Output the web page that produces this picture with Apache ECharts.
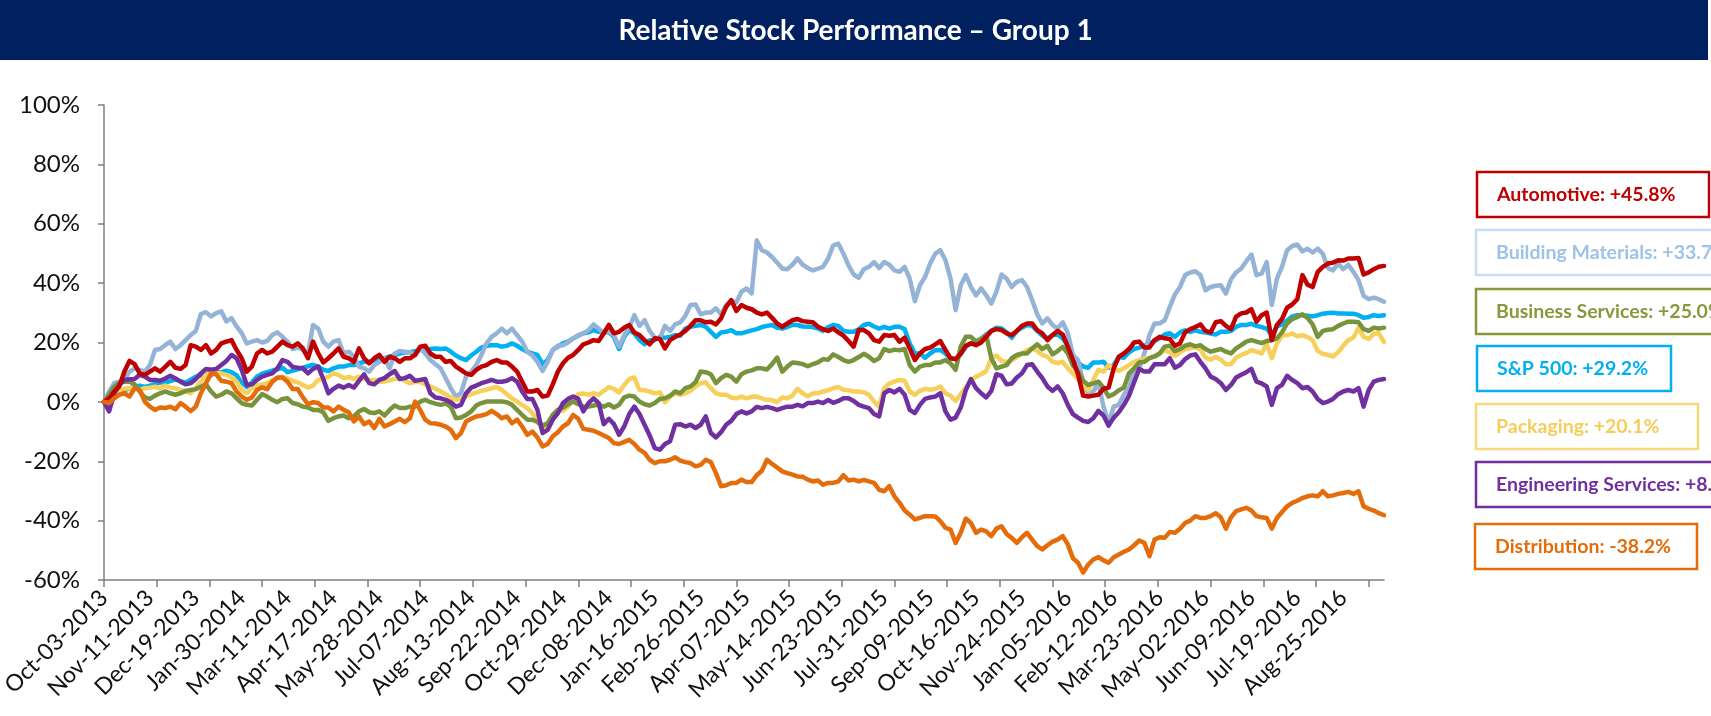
<!DOCTYPE html>
<html>
<head>
<meta charset="utf-8">
<script src="https://cdn.jsdelivr.net/npm/echarts@6/dist/echarts.min.js"></script>
<style>html,body{margin:0;padding:0;background:#fff;}#chart{width:1711px;height:716px;}</style>
</head>
<body>
<div id="chart"></div>
<script>
// ---------------- DATA ----------------
const tickLabels = ["Oct-03-2013","Nov-11-2013","Dec-19-2013","Jan-30-2014","Mar-11-2014","Apr-17-2014","May-28-2014","Jul-07-2014","Aug-13-2014","Sep-22-2014","Oct-29-2014","Dec-08-2014","Jan-16-2015","Feb-26-2015","Apr-07-2015","May-14-2015","Jun-23-2015","Jul-31-2015","Sep-09-2015","Oct-16-2015","Nov-24-2015","Jan-05-2016","Feb-12-2016","Mar-23-2016","May-02-2016","Jun-09-2016","Jul-19-2016","Aug-25-2016"];
const daysPerLabel = 27;      // trading days between labels
const totalDays = 754;        // trading days on the axis
const sampleStep = 3;         // values below are read every 3 trading days

const seriesNames = ["Automotive","Building Materials","Business Services","S&P 500","Packaging","Engineering Services","Distribution"];
const legendValues = ["+45.8%","+33.7%","+25.0%","+29.2%","+20.1%","+8.0%","-38.2%"];

const automotive = [
0,1.2,3.5,5.2,10.2,13.8,12.7,9.6,9.1,10.2,11.3,10.2,11.8,13.5,11.5,11.1,12.4,19.1,18.6,17.5,19.1,16.3,17.5,19.7,20.3,20.8,17.5,14.7,10.2,11.9,16.3,17.5,16.3,16.9,18.6,20.3,19.1,18.6,19.7,18.0,14.7,20.3,
16.3,13.3,14.7,16.3,18.0,15.2,14.7,13.5,18.0,14.7,13.0,14.7,15.8,13.5,15.2,14.7,13.5,14.7,14.7,15.8,18.6,18.9,16.3,15.2,15.2,13.5,13.8,11.9,10.8,9.6,9.1,10.8,11.9,12.4,13.5,14.1,13.3,13.3,11.9,10.2,6.8,3.5,
3.5,4.0,1.8,2.1,5.9,10.2,13.0,14.9,15.8,17.5,19.4,20.0,20.8,20.5,23.1,25.9,23.1,23.6,25.0,25.9,23.4,22.5,20.8,19.4,21.4,21.2,18.0,20.8,21.9,22.7,23.9,25.6,27.5,27.5,26.8,27.0,26.1,28.1,32.0,34.3,30.6,32.6,
31.7,31.2,30.1,29.5,30.1,28.3,26.4,25.3,26.4,27.5,27.9,27.2,27.0,26.8,25.3,24.5,23.9,24.7,23.4,22.3,20.5,18.6,24.2,24.2,23.1,20.8,20.3,22.5,22.3,22.5,20.3,21.6,18.0,14.1,16.3,17.8,18.3,19.4,20.5,17.5,
14.7,14.4,16.3,18.9,19.7,19.1,20.0,21.9,23.9,24.5,24.2,23.1,22.5,23.9,25.6,26.4,26.4,24.2,23.1,20.8,22.5,23.9,22.7,18.6,14.1,9.3,2.1,1.8,2.1,2.4,4.4,4.8,11.3,15.2,16.3,17.8,20.0,20.3,18.3,18.3,20.8,21.9,
21.4,21.2,18.9,19.7,23.4,24.5,25.2,26.1,23.9,23.4,26.8,27.2,25.6,24.5,28.7,29.8,30.1,31.2,27.0,29.2,30.1,20.8,25.9,27.9,31.7,32.8,34.6,42.7,39.5,38.7,43.8,45.5,46.6,46.9,47.7,47.6,48.3,48.3,48.5,42.9,43.6,44.7,45.5,45.8
];
const buildingMaterials = [
0,3.5,6.3,6.8,7.4,10.2,11.3,10.8,10.2,12.4,17.5,17.8,19.1,20.3,17.8,19.1,20.8,22.5,23.9,29.6,30.2,28.8,29.9,30.5,27.1,28.2,25.4,23.2,19.7,20.3,20.8,20.0,20.5,22.5,23.4,21.9,20.3,17.8,18.3,17.5,16.3,25.9,
24.7,20.3,18.6,20.3,20.8,16.3,16.9,15.2,11.9,11.3,10.2,12.4,13.5,14.7,11.3,16.3,17.1,16.9,16.7,15.8,18.0,16.3,14.1,12.7,11.3,8.0,4.6,1.8,2.9,8.5,10.2,12.4,15.8,19.7,21.9,23.1,24.7,23.1,24.7,22.5,20.3,16.9,
15.6,13.5,10.4,13.5,17.5,18.9,19.1,20.0,21.4,22.5,23.1,24.2,26.1,24.7,23.1,23.6,22.5,18.6,22.5,25.0,29.2,25.6,27.5,23.9,21.6,21.4,25.6,23.9,26.1,26.8,29.0,32.6,32.8,29.5,30.1,30.1,31.5,29.5,32.6,33.9,33.5,37.1,
38.2,36.5,54.4,51.1,50.3,48.8,46.9,44.9,44.7,46.2,48.3,46.2,45.1,44.3,44.9,45.5,48.3,52.7,53.3,49.9,46.0,42.9,41.8,44.7,45.5,47.1,45.1,47.1,46.2,44.3,43.8,45.5,41.5,33.9,39.3,42.1,46.6,49.9,51.1,47.7,
41.5,30.9,39.3,42.7,38.7,35.9,38.2,35.9,33.1,37.1,42.9,41.5,38.7,40.4,41.0,38.7,34.3,29.5,26.4,28.1,25.9,24.7,26.8,23.1,15.8,14.1,6.8,2.9,3.5,6.3,-1.6,-7.2,-1.6,-1.0,2.4,4.8,10.0,11.3,16.3,22.5,26.4,26.4,
27.5,32.0,36.2,38.7,42.7,43.6,44.0,42.7,37.6,38.7,39.1,39.3,36.5,41.3,43.6,44.9,47.4,49.6,42.7,43.2,47.1,32.6,41.5,45.5,51.1,52.5,53.0,50.7,51.6,50.3,51.6,49.9,45.1,44.3,46.6,44.7,46.2,43.8,41.0,35.7,34.6,35.1,34.6,33.7
];
const businessServices = [
0,2.4,5.1,6.3,6.8,6.8,5.9,3.5,1.5,1.0,2.1,2.9,3.5,2.9,2.4,2.9,3.7,4.0,4.3,5.1,5.9,3.5,1.8,2.4,3.5,2.9,1.2,-0.4,-1.0,-1.2,0.7,2.6,1.8,0.7,-0.1,1.0,1.2,-0.4,-0.8,-1.6,-1.9,-2.7,
-2.7,-3.5,-6.4,-5.5,-4.9,-4.6,-5.5,-4.9,-3.2,-2.4,-3.5,-3.8,-3.2,-4.6,-2.7,-1.2,-2.1,-2.1,-1.6,-1.6,0.1,0.7,-0.1,-0.6,-1.0,-0.6,-1.6,-5.5,-5.3,-4.4,-3.2,-1.2,-0.4,0.1,0.1,0.1,0.1,-0.1,-1.0,-2.7,-4.4,-6.0,
-6.0,-6.8,-8.0,-7.2,-4.4,-2.7,-1.9,-0.8,0.1,-0.8,-1.6,-1.6,-1.2,-1.0,-1.6,-0.8,-1.9,-1.0,1.5,2.1,1.8,0.1,-0.8,-1.2,-0.4,1.0,1.2,2.1,3.5,2.9,4.6,5.2,6.6,10.2,10.0,9.3,6.3,8.0,9.1,8.5,6.8,9.3,
10.2,10.6,11.3,11.3,10.9,12.7,14.9,10.2,11.9,13.3,13.1,12.7,12.0,12.7,13.3,14.4,14.2,16.0,15.1,14.1,13.5,14.1,15.1,16.2,15.2,13.8,14.7,17.8,17.1,17.6,17.4,17.8,12.4,10.2,11.9,12.4,12.4,13.3,13.3,14.1,
13.0,10.8,18.6,21.9,21.9,20.3,21.2,22.5,14.7,11.3,11.9,12.4,14.7,15.8,16.3,16.3,18.0,19.4,17.8,18.9,16.0,17.1,18.5,16.3,12.2,10.2,7.1,5.7,6.2,6.8,4.8,1.8,2.6,3.9,4.8,9.6,11.3,13.3,13.5,14.7,15.3,16.3,
18.6,18.9,17.1,17.8,18.9,19.4,18.7,19.1,17.8,16.9,17.4,17.8,16.9,16.3,18.0,19.1,20.3,20.8,20.3,19.8,20.5,20.8,21.4,23.4,26.4,27.9,28.6,29.5,28.3,26.1,21.9,23.9,24.3,24.5,25.6,26.4,27.0,27.0,26.8,24.5,23.9,25.0,24.7,25.0
];
const sp500 = [
0,0.5,1.5,3.0,4.0,4.5,5.0,5.5,5.0,5.5,6.0,6.5,6.5,7.0,7.5,7.0,6.5,7.5,8.5,9.0,9.5,9.0,10.0,10.0,10.5,10.0,9.0,6.5,5.0,6.5,8.5,9.5,10.0,10.5,11.0,11.5,10.0,10.5,11.0,11.5,12.0,12.5,
11.9,10.8,10.4,11.3,11.9,11.9,12.4,12.4,13.0,13.5,13.5,14.1,14.7,14.7,15.2,15.8,16.3,16.6,16.7,17.1,17.5,17.5,17.8,18.0,17.8,18.0,16.9,15.6,14.7,14.1,15.6,16.9,18.3,18.9,19.1,19.1,18.6,18.9,19.7,18.9,17.8,16.9,
16.3,15.8,12.7,14.1,17.5,18.6,19.7,20.3,21.4,22.3,23.1,23.4,24.2,23.6,23.6,23.4,21.9,17.8,21.9,24.2,23.1,20.8,19.4,20.8,20.8,21.9,21.6,21.9,22.5,22.3,24.7,25.3,25.6,25.9,25.3,23.6,21.9,23.4,23.6,24.2,23.1,23.1,
23.6,24.1,24.5,25.2,25.6,25.9,25.0,24.7,25.3,25.9,25.9,25.4,25.3,25.2,24.7,23.9,25.2,25.9,25.6,23.9,23.6,23.6,24.5,25.9,26.3,25.4,24.7,25.3,24.7,25.3,25.3,24.5,19.7,16.3,16.3,14.9,16.3,17.4,17.5,16.3,
14.7,14.4,16.0,18.6,19.7,20.3,21.2,22.7,23.9,25.0,24.7,23.4,21.6,23.9,25.0,25.9,25.6,23.9,22.3,21.4,22.5,22.7,21.4,18.9,15.2,13.3,11.9,11.5,13.3,13.3,13.5,11.5,12.4,15.1,14.9,16.7,17.8,18.3,18.9,19.7,20.5,21.4,
22.7,23.1,21.9,23.4,24.1,23.6,24.1,23.6,23.4,23.0,22.7,23.6,23.6,23.9,25.3,25.9,25.9,26.3,25.6,25.2,24.7,22.5,25.4,26.1,27.4,28.8,29.2,29.2,29.0,28.8,29.2,29.7,29.9,30.0,29.8,29.8,29.7,29.7,29.2,28.3,28.6,29.2,28.9,29.2
];
const packaging = [
0,-1.0,1.8,3.5,4.4,4.6,4.8,4.0,4.6,4.8,5.1,4.6,5.5,4.8,4.6,4.0,3.5,2.9,4.6,6.8,9.1,10.2,9.9,9.6,9.1,8.2,6.8,4.0,2.9,4.6,5.5,5.9,6.3,7.4,7.9,8.5,7.9,7.0,6.6,5.7,4.8,5.5,
7.4,7.7,8.5,9.6,9.1,8.0,8.4,7.7,8.5,7.7,7.4,7.4,6.8,6.8,7.3,7.7,8.0,7.1,6.2,6.8,6.6,5.9,5.2,4.4,3.5,2.6,1.5,0.7,1.0,1.9,2.6,3.1,3.7,4.1,4.6,5.0,4.0,2.6,1.2,0.1,-1.0,-2.1,
-3.8,-6.0,-10.2,-7.7,-4.4,-2.8,-3.0,-1.6,0.7,2.6,2.8,2.4,2.9,2.4,3.7,5.0,4.4,3.2,5.7,7.7,8.2,4.0,3.9,3.5,2.9,3.2,-0.1,1.8,2.9,2.4,2.9,3.7,5.2,6.3,6.6,4.6,2.9,2.4,2.4,1.5,1.2,1.8,
1.2,1.7,1.8,1.2,0.7,0.6,-0.1,1.5,1.2,2.1,4.4,2.9,1.9,2.8,2.9,3.5,3.9,4.6,5.0,4.1,3.9,3.5,3.5,3.2,2.4,0.1,-1.6,4.6,6.2,6.8,7.4,7.1,3.5,2.4,3.7,4.4,4.1,4.4,5.2,2.9,
2.1,0.3,2.6,4.8,7.4,8.5,9.3,10.4,14.7,15.6,13.8,13.5,14.0,15.1,16.2,17.4,18.0,17.1,15.8,15.2,13.5,13.1,13.5,11.3,9.6,7.7,5.5,4.0,7.4,10.8,10.2,12.4,11.3,10.4,11.3,12.4,13.5,14.1,14.7,14.7,15.3,16.3,
17.4,16.7,15.5,16.7,17.8,18.0,18.5,17.6,14.9,14.2,15.1,14.2,12.7,12.7,14.9,15.8,16.5,17.4,16.9,16.3,19.7,14.7,19.7,22.3,22.5,23.0,22.1,22.5,21.8,20.8,17.1,16.2,15.8,15.3,16.7,18.9,20.8,21.6,25.0,21.9,21.2,23.0,23.1,20.1
];
const engineeringServices = [
0,-3.2,2.9,5.7,7.4,7.6,7.7,9.1,8.5,7.4,7.4,7.1,7.9,8.8,7.9,6.8,5.9,6.3,7.7,9.6,11.1,10.8,11.1,12.4,13.8,15.8,14.7,10.8,5.7,5.9,7.4,8.5,9.1,9.6,11.3,14.1,13.5,11.8,11.5,11.3,9.6,11.1,
11.9,7.7,2.9,4.4,5.5,4.8,5.7,4.8,7.1,9.3,6.3,5.9,7.4,8.0,9.3,10.4,7.7,8.0,8.8,7.1,7.4,7.7,2.9,1.5,1.2,0.7,-0.1,-1.6,-1.0,2.9,4.8,5.5,6.3,6.8,7.4,6.8,6.8,7.1,8.0,6.8,3.5,1.0,
1.0,-2.7,-10.5,-9.4,-6.0,-3.8,-0.4,1.0,1.8,1.0,-3.2,-0.4,1.2,-0.4,-7.5,-5.7,-7.5,-11.1,-8.3,-4.1,-1.6,-4.1,-7.7,-11.3,-15.6,-16.1,-14.2,-13.3,-7.7,-7.5,-8.3,-7.7,-8.8,-7.7,-4.9,-10.5,-12.0,-10.2,-7.7,-6.4,-4.1,-3.2,
-3.9,-3.2,-1.7,-2.1,-1.7,-2.1,-2.7,-2.1,-1.6,-1.6,-1.0,-1.5,-0.4,-0.4,0.1,-0.4,0.6,-0.3,0.3,1.2,1.2,0.3,-1.0,-1.6,-2.1,-4.1,-4.9,2.9,4.0,3.2,4.4,2.4,-2.7,-3.8,-1.0,1.0,1.5,1.8,2.9,-3.2,
-6.0,-5.3,-1.9,4.0,7.7,4.6,2.9,1.5,3.7,9.3,8.8,5.9,6.2,8.2,9.6,12.4,12.7,10.2,8.0,5.2,3.7,5.2,2.9,-1.0,-4.1,-5.3,-6.4,-6.8,-5.5,-3.0,-4.6,-8.0,-5.3,-3.5,-1.0,2.1,6.6,11.1,10.2,10.2,12.7,12.7,
12.7,14.7,11.5,12.4,14.4,15.6,16.0,13.5,11.3,8.5,7.7,6.3,4.0,5.7,8.2,9.1,10.0,11.1,6.8,6.2,5.2,-1.0,4.6,5.7,8.8,7.4,6.3,4.6,5.0,3.5,1.0,-0.4,0.1,1.0,2.6,3.5,4.0,3.5,4.6,-1.6,4.0,6.8,7.4,7.7
];
const distribution = [
0,-0.4,1.2,2.4,2.9,1.8,4.6,4.0,0.1,-1.6,-2.7,-1.9,-2.1,-1.6,-2.5,-0.4,-1.6,-3.1,-1.6,2.9,6.3,9.6,9.3,7.1,6.8,6.3,3.5,1.8,0.7,1.5,4.0,4.9,4.3,6.8,8.2,8.2,6.8,4.3,4.3,1.5,-0.8,-0.1,
-0.4,-1.9,-1.9,-3.2,-1.6,-2.7,-3.5,-6.6,-4.9,-7.5,-6.6,-8.8,-5.7,-8.3,-7.5,-6.6,-5.7,-6.8,-5.5,0.1,-2.7,-6.0,-7.2,-7.3,-7.7,-8.3,-9.4,-12.2,-10.5,-6.6,-5.7,-4.9,-4.6,-4.1,-3.0,-4.1,-5.5,-4.9,-7.2,-6.0,-8.3,-11.1,
-10.0,-12.0,-15.0,-14.2,-11.6,-10.2,-8.3,-7.2,-4.4,-5.7,-9.1,-9.4,-9.7,-10.5,-11.3,-12.2,-13.9,-14.2,-13.5,-12.8,-14.2,-16.1,-17.2,-19.5,-20.6,-20.0,-20.0,-19.5,-18.7,-19.8,-20.3,-20.6,-21.7,-21.2,-19.5,-20.3,-24.0,-28.4,-28.1,-27.3,-27.3,-26.2,
-27.0,-27.0,-24.7,-23.2,-19.5,-20.9,-22.1,-23.4,-24.0,-24.5,-25.1,-25.2,-26.2,-26.8,-26.5,-27.9,-27.3,-27.3,-26.8,-24.7,-26.5,-26.2,-26.8,-26.3,-26.8,-27.3,-29.6,-30.1,-28.4,-31.8,-34.0,-36.6,-38.0,-39.6,-39.1,-38.5,-38.5,-38.6,-40.2,-42.4,
-43.0,-47.5,-44.1,-39.3,-40.8,-44.1,-43.0,-43.6,-45.2,-42.7,-41.9,-44.5,-45.8,-47.5,-45.6,-44.1,-46.4,-48.6,-49.7,-48.3,-47.1,-46.4,-45.2,-48.0,-52.7,-54.2,-57.5,-54.8,-53.1,-52.3,-53.4,-54.2,-52.3,-51.4,-50.5,-49.7,-48.3,-46.7,-47.5,-52.0,-46.4,-45.6,
-45.8,-43.8,-44.1,-42.7,-40.8,-40.0,-38.5,-39.1,-39.1,-38.5,-37.5,-38.9,-42.7,-38.9,-36.8,-36.2,-35.7,-36.6,-38.5,-38.9,-39.1,-42.7,-39.1,-37.1,-35.2,-34.0,-33.3,-32.4,-31.8,-31.5,-31.8,-30.1,-31.8,-31.5,-31.0,-30.7,-30.3,-31.0,-30.1,-35.2,-36.0,-36.6,-37.5,-38.2
];

// ---------------- BUILD ----------------
const seriesValues = [automotive, buildingMaterials, businessServices, sp500, packaging, engineeringServices, distribution];
const lineColors = ['#C00000','#95B3D7','#77933C','#00B0F0','#F6D05B','#7030A0','#E46C0A'];
const legendText = ['#C00000','#9DC3E6','#8A973A','#00B0F0','#F5CD58','#7030A0','#E46C0A'];
const legendBorder = ['#C00000','#C5DCF1','#8A973A','#00B0F0','#F8D977','#7030A0','#E46C0A'];
const drawOrder = [3, 1, 4, 2, 5, 0, 6]; // bottom -> top

const categories = Array.from({length: totalDays}, (_, i) => {
  const k = Math.floor(i / daysPerLabel);
  return i % daysPerLabel === 0 ? tickLabels[k] : tickLabels[k] + '·' + (i % daysPerLabel);
});
const toPairs = arr => arr.map((v, j) => [j * sampleStep, v]);

const FONT = 'Lato, "Open Sans", sans-serif';

const series = drawOrder.map((idx, z) => ({
  type: 'line',
  name: seriesNames[idx],
  data: toPairs(seriesValues[idx]),
  showSymbol: false,
  symbol: 'none',
  silent: true,
  animation: false,
  z: 2 + z,
  lineStyle: { width: 4.5, color: lineColors[idx], join: 'round', cap: 'round' },
  itemStyle: { color: lineColors[idx] }
}));

const boxLayout = [
  { x: 1477, y: 172, w: 232 },
  { x: 1476, y: 230, w: 320 },
  { x: 1476, y: 289, w: 320 },
  { x: 1477, y: 346, w: 194 },
  { x: 1476, y: 404, w: 222 },
  { x: 1476, y: 462, w: 320 },
  { x: 1475, y: 524, w: 222 }
];
const graphics = [
  { type: 'rect', shape: { x: 0, y: 0, width: 1708, height: 60 }, style: { fill: '#002060' }, z: 0, silent: true }
];
boxLayout.forEach((b, i) => {
  graphics.push({ type: 'rect', shape: { x: b.x, y: b.y, width: b.w, height: 45 },
    style: { fill: '#ffffff', stroke: legendBorder[i], lineWidth: 2.5 }, z: 1, silent: true });
  graphics.push({ type: 'text', x: b.x + 20, y: b.y + 23,
    style: { text: seriesNames[i] + ': ' + legendValues[i], fill: legendText[i],
      fontSize: 19.5, fontWeight: 'bold', fontFamily: FONT, verticalAlign: 'middle', align: 'left' },
    z: 2, silent: true });
});

const chart = echarts.init(document.getElementById('chart'), null, { renderer: 'canvas' });
chart.setOption({
  animation: false,
  backgroundColor: '#ffffff',
  title: {
    text: 'Relative Stock Performance – Group 1',
    left: 'center', top: 12,
    textStyle: { color: '#ffffff', fontSize: 28, fontWeight: 'bold', fontFamily: FONT },
    z: 10
  },
  graphic: graphics,
  grid: { left: 104, right: 327, top: 105, bottom: 136, containLabel: false, outerBoundsMode: 'none' },
  xAxis: {
    type: 'category',
    data: categories,
    boundaryGap: false,
    axisLine: { show: true, onZero: false, lineStyle: { color: '#7f7f7f', width: 1.5 } },
    axisTick: { show: true, interval: 30, length: 7, lineStyle: { color: '#7f7f7f', width: 1.5 } },
    axisLabel: { interval: daysPerLabel - 1, rotate: 45, margin: 14, fontSize: 23, fontFamily: FONT, color: '#111111' },
    splitLine: { show: false }
  },
  yAxis: {
    type: 'value',
    min: -60, max: 100, interval: 20,
    axisLine: { show: true, lineStyle: { color: '#7f7f7f', width: 1.5 } },
    axisTick: { show: true, length: 6, lineStyle: { color: '#7f7f7f', width: 1.5 } },
    axisLabel: { formatter: '{value}%', margin: 24, fontSize: 24, fontFamily: FONT, color: '#111111' },
    splitLine: { show: false }
  },
  series: series
});
</script>
</body>
</html>
